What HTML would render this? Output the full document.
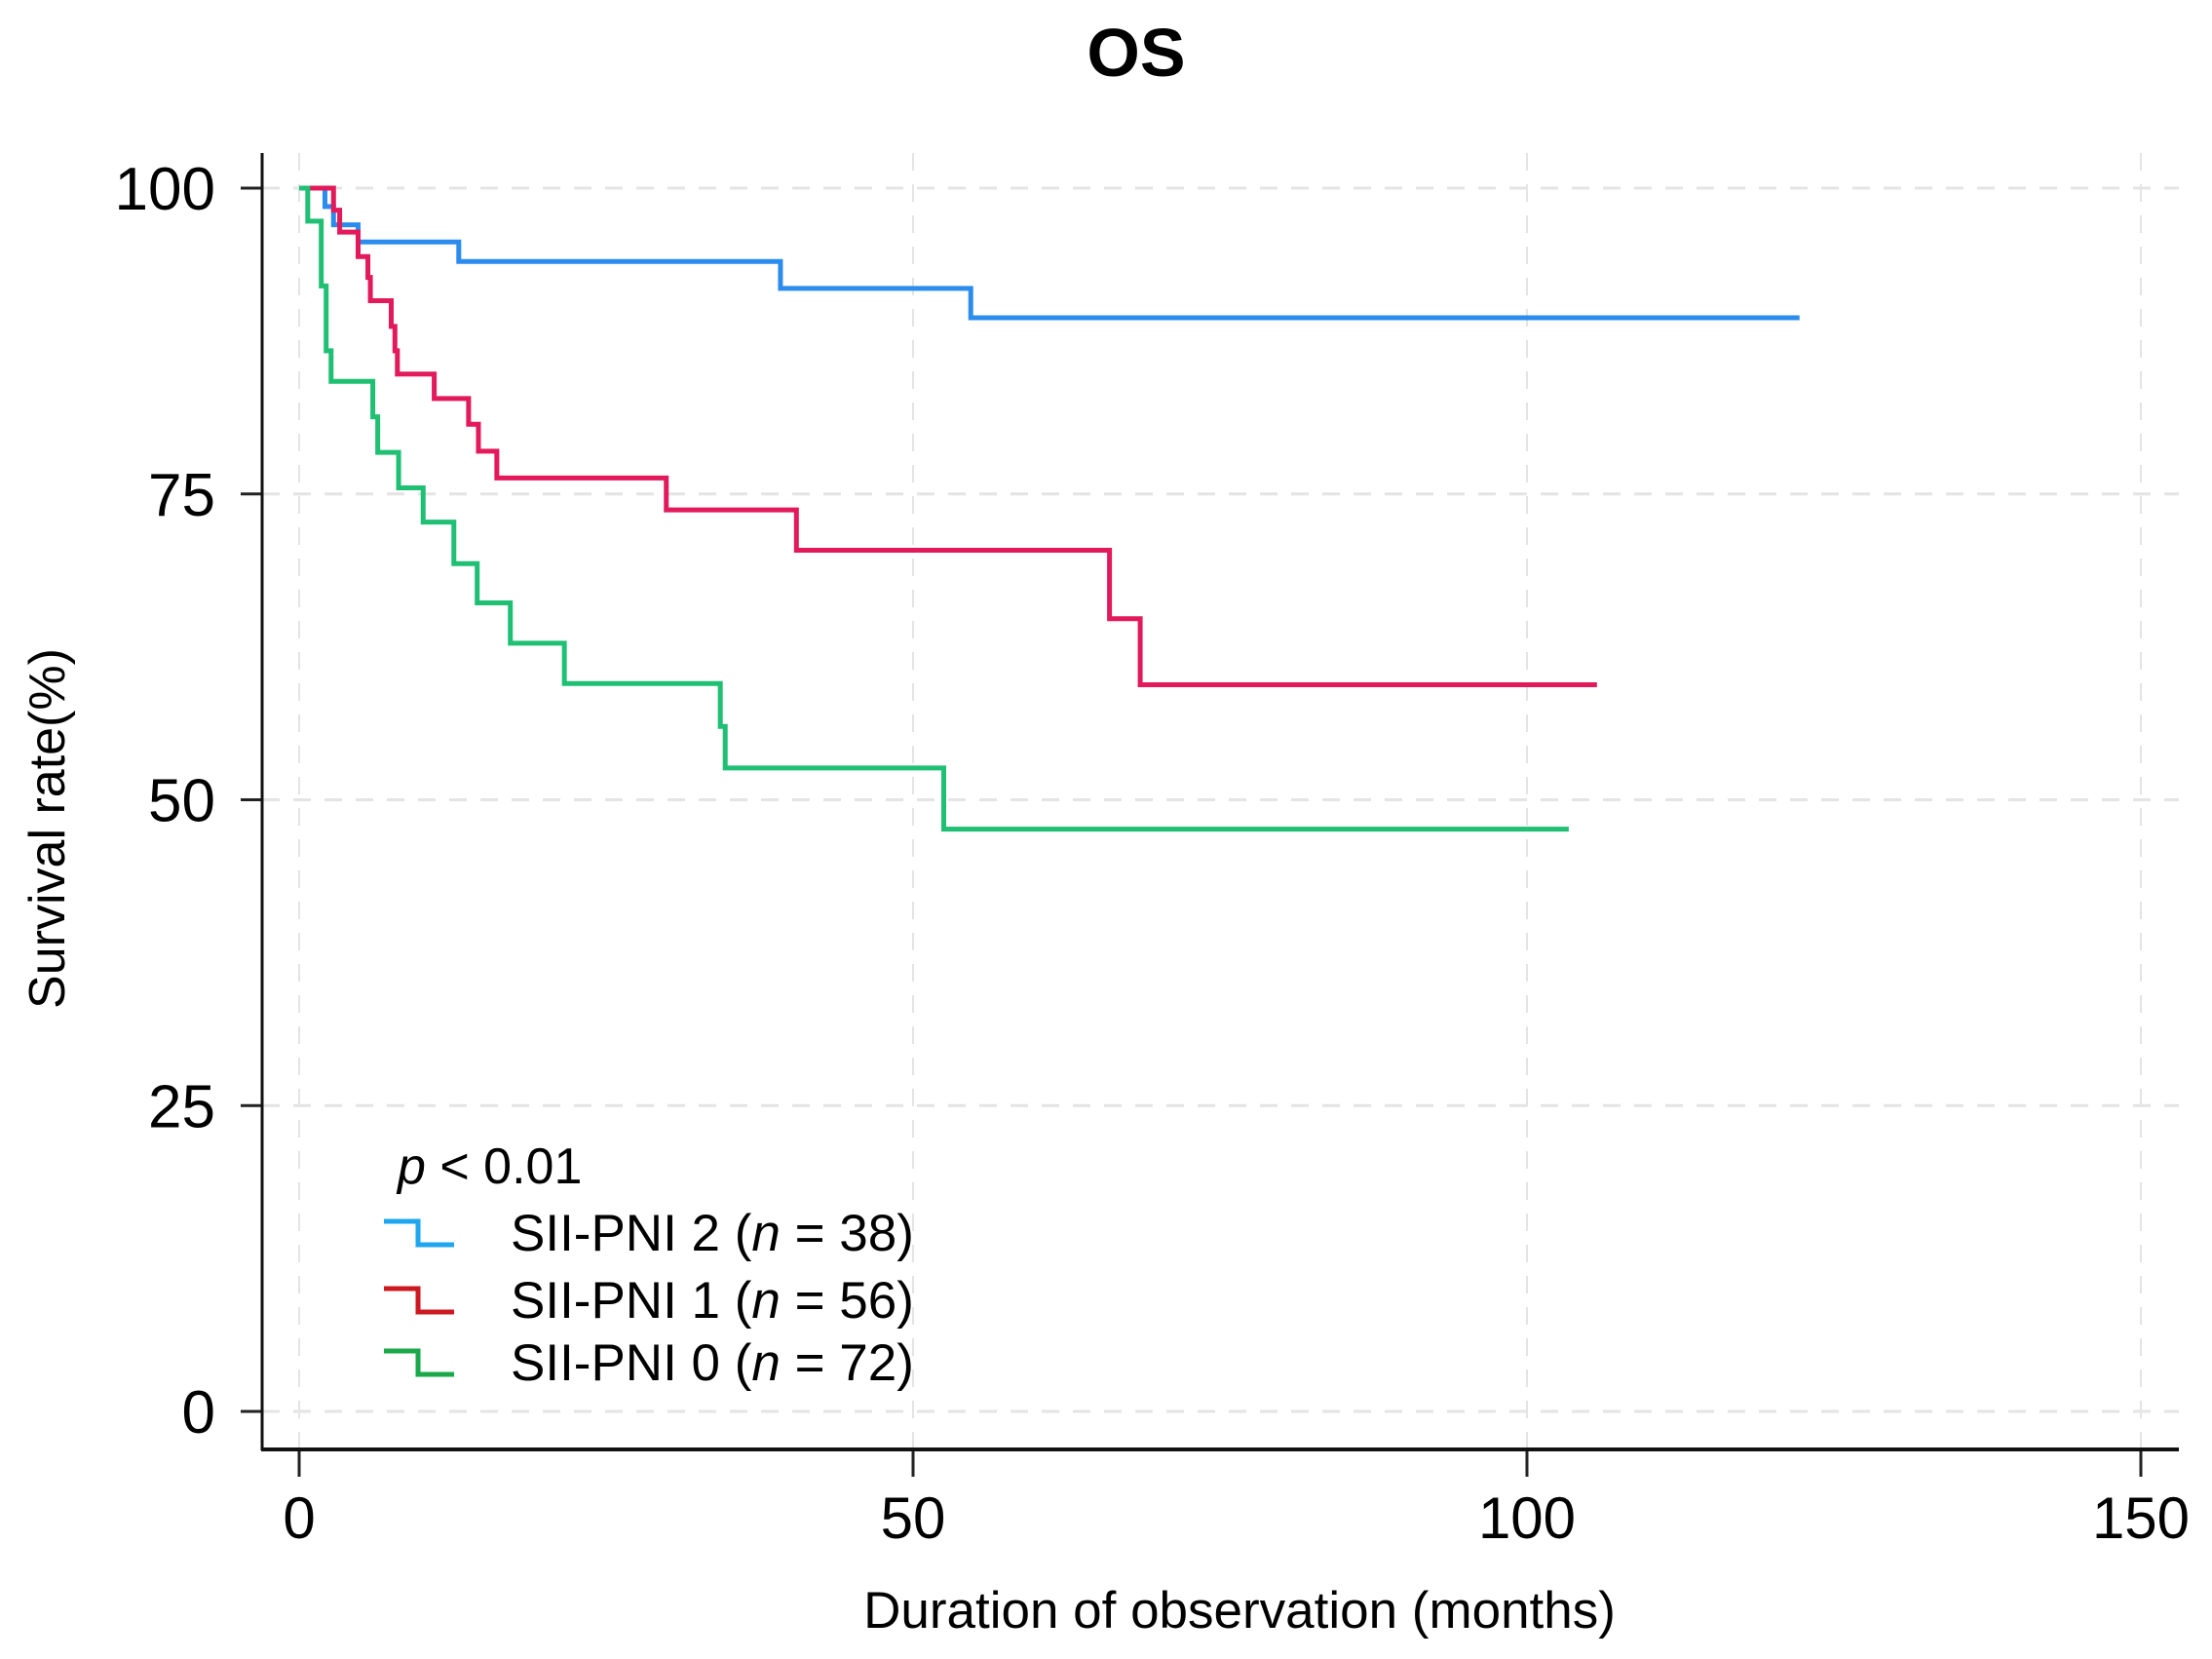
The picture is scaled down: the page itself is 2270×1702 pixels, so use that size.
<!DOCTYPE html>
<html><head><meta charset="utf-8"><style>
html,body{margin:0;padding:0;background:#fff}
svg{display:block;font-family:"Liberation Sans",Arial,sans-serif}
</style></head><body>
<svg id="chart" width="2270" height="1702" viewBox="0 0 2270 1702">
<text x="1166" y="78" font-size="70" font-weight="bold" text-anchor="middle">OS</text>
<g id="grid"></g><g id="axes"></g><g id="series"></g>
<text transform="translate(66,850) rotate(-90)" font-size="52" text-anchor="middle">Survival rate(%)</text>
<text x="1272" y="1670" font-size="53" text-anchor="middle">Duration of observation (months)</text>
<g>
<text x="408" y="1214" font-size="52"><tspan font-style="italic">p</tspan> &lt; 0.01</text>
<g id="legend-items"></g>
</g>
</svg>
<script>
const xTicks=[0,50,100,150];
const yTicks=[0,25,50,75,100];
const names=["SII-PNI 2","SII-PNI 1","SII-PNI 0"];
const counts=[38,56,72];
const colors=["#2b8cee","#e2195a","#1fbf74"];
const legendColors=["#1fa6ee","#cc1820","#1aa84a"];
const blueT=[0,2.1,2.8,4.8,13,39.2,54.7,122.2];
const blueS=[100,98.5,97.0,95.6,94.0,91.8,89.4,89.4];
const redT=[0,2.8,3.3,4.8,5.6,5.8,7.5,7.8,8.0,11.0,13.8,14.6,16.1,29.9,40.5,66,68.5,105.7];
const redS=[100,98.2,96.4,94.4,92.7,90.8,88.7,86.7,84.8,82.8,80.7,78.5,76.3,73.7,70.4,64.8,59.4,59.4];
const greenT=[0,0.7,1.8,2.2,2.6,6.0,6.4,8.1,10.1,12.6,14.5,17.2,21.6,34.3,34.7,52.5,103.4];
const greenS=[100,97.3,92.0,86.7,84.2,81.3,78.4,75.5,72.7,69.3,66.1,62.8,59.5,56.0,52.6,47.6,47.6];
const seriesT=[blueT,redT,greenT], seriesS=[blueS,redS,greenS];
const NS="http://www.w3.org/2000/svg";
const X=v=>307+v*(2197-307)/150;
const Y=v=>1448-v*(1448-193)/100;
function mk(tag,attrs,parent){const e=document.createElementNS(NS,tag);for(const k in attrs)e.setAttribute(k,attrs[k]);parent.appendChild(e);return e;}
const grid=document.getElementById('grid'),axes=document.getElementById('axes'),ser=document.getElementById('series');
xTicks.forEach(t=>{
  const g=mk('line',{x1:X(t),x2:X(t),y1:157,y2:1487,stroke:'#e4e4e4','stroke-width':2,'stroke-dasharray':'18 14'},grid);
  
  
  const tk=mk('line',{x1:X(t),x2:X(t),y1:1487,y2:1515,stroke:'#222','stroke-width':3},axes);
  
  
  const tl=mk('text',{x:X(t),y:1578,'font-size':60,'text-anchor':'middle'},axes);tl.textContent=t;
  
  
});
yTicks.forEach(t=>{
  const g=mk('line',{x1:269,x2:2236,y1:Y(t),y2:Y(t),stroke:'#e4e4e4','stroke-width':3,'stroke-dasharray':'18 14'},grid);
  
  
  const tk=mk('line',{x1:247,x2:269,y1:Y(t),y2:Y(t),stroke:'#222','stroke-width':3},axes);
  
  
  const tl=mk('text',{x:221,y:Y(t)+22,'font-size':62,'text-anchor':'end'},axes);tl.textContent=t;
  
  
});
const ya=mk('line',{x1:269,x2:269,y1:157,y2:1488,stroke:'#111','stroke-width':3},axes);


const xa=mk('line',{x1:268,x2:2236,y1:1487,y2:1487,stroke:'#111','stroke-width':4},axes);


for(let i=0;i<3;i++){
  const T=seriesT[i],S=seriesS[i];
  let d='M'+X(T[0])+','+Y(S[0]);
  for(let j=1;j<T.length;j++){d+=' H'+X(T[j])+' V'+Y(S[j]);}
  const p=mk('path',{d:d,fill:'none',stroke:colors[i],'stroke-width':5},ser);
  
  
}
const li=document.getElementById('legend-items');
const ly=[1283,1352,1416];
for(let i=0;i<3;i++){
  const b=ly[i]-18;
  const ic=mk('path',{d:`M394,${b-12} H429 V${b+12} H466`,fill:'none',stroke:legendColors[i],'stroke-width':5},li);
  
  
  const tx=mk('text',{x:524,y:ly[i],'font-size':53},li);
  tx.innerHTML=names[i]+' (<tspan font-style="italic">n</tspan> = '+counts[i]+')';
  
  
}
</script>
</body></html>
